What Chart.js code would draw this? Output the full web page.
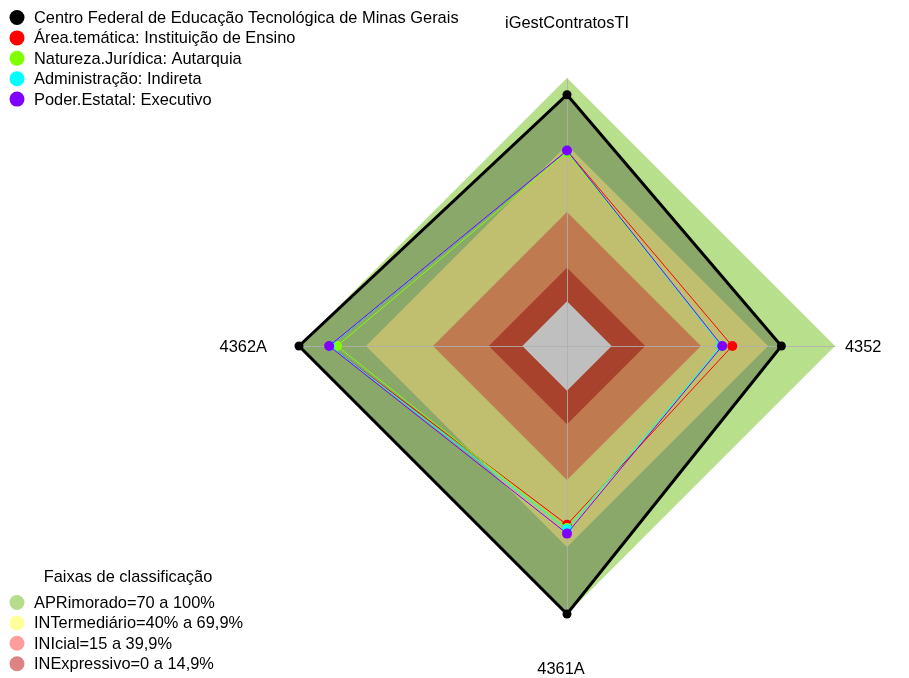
<!DOCTYPE html>
<html lang="pt-BR">
<head>
<meta charset="UTF-8">
<title>iGestContratosTI</title>
<script src="https://cdn.jsdelivr.net/npm/chart.js"></script>
<style>
  html, body { margin: 0; padding: 0; background: #fff; }
  canvas { display: block; }
</style>
</head>
<body>
<canvas id="radar" width="909" height="678"></canvas>
<script>
// axes, clockwise from the top
const axes = ['iGestContratosTI', '4352', '4361A', '4362A'];

const seriesNames = [
  'Centro Federal de Educação Tecnológica de Minas Gerais',
  'Área.temática: Instituição de Ensino',
  'Natureza.Jurídica: Autarquia',
  'Administração: Indireta',
  'Poder.Estatal: Executivo'
];
const seriesColors = ['#000000', '#ff0000', '#80ff00', '#00ffff', '#8000ff'];

const centroFederal = [92.5, 76, 100, 100];
const areaTematica = [67.5, 54, 60, 86];
const naturezaJuridica = [66.5, 49.5, 61.5, 83];
const administracao = [67.5, 49, 62, 86];
const poderEstatal = [67.5, 49.5, 64, 86.5];

// classification bands (upper limit of each band), inner first
const bandTitle = 'Faixas de classificação';
const bandNames = [
  'APRimorado=70 a 100%',
  'INTermediário=40% a 69,9%',
  'INIcial=15 a 39,9%',
  'INExpressivo=0 a 14,9%'
];
const bandLimits = [0, 15, 40, 70, 100];
const bandFills = ['#ffffff', '#e0593b', '#ffa36b', '#ffff95', '#b8e08c'];
const bandLegendColors = ['#b5dd8b', '#ffff9c', '#ff9d9d', '#de8383'];

const seriesData = [poderEstatal, administracao, naturezaJuridica, areaTematica];
const seriesIdx = [4, 3, 2, 1];

// first dataset is painted last (on top)
const datasets = [];
seriesData.forEach((d, k) => {
  const c = seriesColors[seriesIdx[k]];
  datasets.push({
    label: seriesNames[seriesIdx[k]],
    data: d,
    borderColor: c,
    backgroundColor: c,
    pointBackgroundColor: c,
    pointBorderWidth: 0,
    pointRadius: 5,
    borderWidth: 1,
    fill: false
  });
});
// the institution, filled with translucent black
datasets.push({
  label: seriesNames[0],
  data: centroFederal,
  borderColor: '#000',
  backgroundColor: 'rgba(0,0,0,0.25)',
  pointBackgroundColor: '#000',
  pointBorderWidth: 0,
  pointRadius: 4.5,
  borderWidth: 3,
  fill: 'start'
});
// bands underneath, the widest one painted first
bandLimits.forEach((v, k) => {
  datasets.push({
    label: 'faixa' + v,
    data: axes.map(() => v),
    backgroundColor: bandFills[k],
    borderWidth: 0,
    pointRadius: 0,
    fill: 'start'
  });
});

const font = '16.4px "Liberation Sans", Arial, sans-serif';

const decor = {
  id: 'decor',
  beforeDatasetDraw(chart, args) {
    if (args.index !== 4) return;
    const r = chart.scales.r;
    const ctx = chart.ctx;
    ctx.save();
    ctx.strokeStyle = 'rgba(175,175,175,0.85)';
    ctx.lineWidth = 1;
    for (let i = 0; i < axes.length; i++) {
      const p = r.getPointPositionForValue(i, 100);
      ctx.beginPath();
      ctx.moveTo(Math.round(r.xCenter) + 0.5, Math.round(r.yCenter) + 0.5);
      ctx.lineTo(Math.round(p.x) + 0.5, Math.round(p.y) + 0.5);
      ctx.stroke();
    }
    ctx.restore();
  },
  afterDraw(chart) {
    const r = chart.scales.r;
    const ctx = chart.ctx;
    ctx.save();
    ctx.font = font;
    ctx.fillStyle = '#000';
    ctx.textBaseline = 'middle';

    // axis labels
    const dist = [324, 278, 322, 300];
    const align = ['center', 'left', 'center', 'right'];
    axes.forEach((t, i) => {
      const p = r.getPointPosition(i, dist[i]);
      ctx.textAlign = align[i];
      ctx.fillText(t, p.x + (i === 2 ? -6 : 0), p.y + 1);
    });

    // series legend
    ctx.textAlign = 'left';
    seriesNames.forEach((t, i) => {
      const y = 17.5 + i * 20.4;
      ctx.fillStyle = seriesColors[i];
      ctx.beginPath();
      ctx.arc(17, y, 7.5, 0, Math.PI * 2);
      ctx.fill();
      ctx.fillStyle = '#000';
      ctx.fillText(t, 34, y + 1);
    });

    // band legend
    ctx.textAlign = 'center';
    ctx.fillText(bandTitle, 128, 577);
    ctx.textAlign = 'left';
    bandNames.forEach((t, i) => {
      const y = 602.5 + i * 20.4;
      ctx.fillStyle = bandLegendColors[i];
      ctx.beginPath();
      ctx.arc(17, y, 7.5, 0, Math.PI * 2);
      ctx.fill();
      ctx.fillStyle = '#000';
      ctx.fillText(t, 34, y + 1);
    });
    ctx.restore();
  }
};

new Chart(document.getElementById('radar'), {
  type: 'radar',
  data: { labels: axes, datasets: datasets },
  options: {
    responsive: false,
    animation: false,
    devicePixelRatio: 1,
    layout: { padding: { left: 299, right: 74, top: 78, bottom: 64 } },
    elements: { line: { tension: 0 } },
    plugins: {
      legend: { display: false },
      tooltip: { enabled: false }
    },
    scales: {
      r: {
        min: -20,
        max: 100,
        ticks: { display: false },
        grid: { display: false },
        angleLines: { display: false },
        pointLabels: { display: false }
      }
    }
  },
  plugins: [decor]
});
</script>
</body>
</html>
